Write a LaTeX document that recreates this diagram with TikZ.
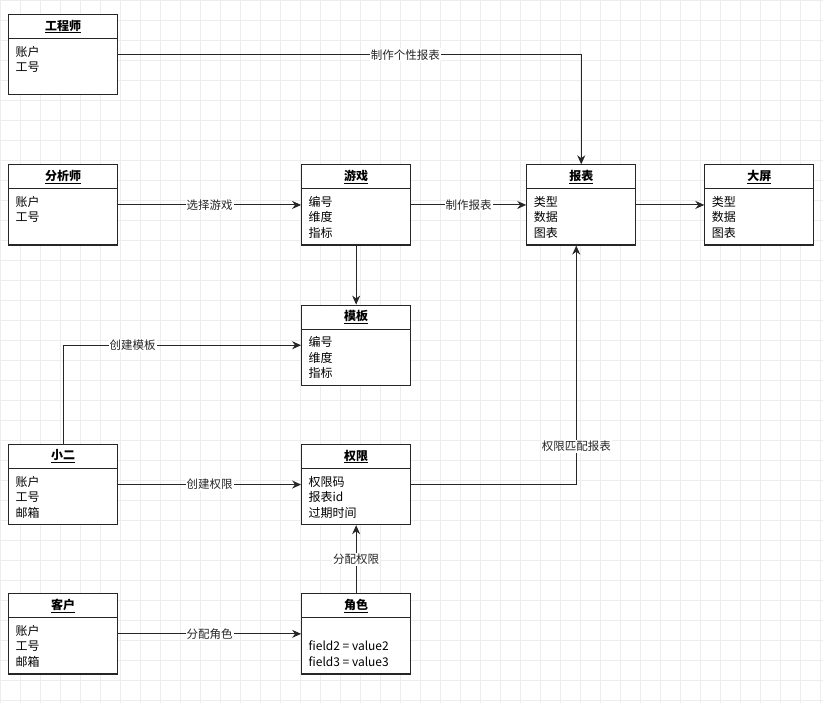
\documentclass[tikz,border=0pt]{standalone}
\usepackage{fontspec}
\setmainfont{Noto Sans CJK SC}
\usepackage{tikz}
\usetikzlibrary{positioning}
\usetikzlibrary{shapes.multipart}
\usetikzlibrary{arrows.meta}

% title and field parts of an entity box
\newcommand{\etitle}[1]{\parbox[c][23pt]{109pt}{\centering\textbf{\underline{#1}}}}
\newcommand{\efields}[1]{\parbox[c][55pt][t]{109pt}{\raggedright\leftskip=7pt\rule{0pt}{17pt}#1}}

\begin{document}
\begin{tikzpicture}
      [x=1pt, y=-1pt, font=\fontsize{12}{15.5}\selectfont,
       entity/.style={rectangle split, rectangle split parts=2, draw=black!85,
                      line width=1.1pt, fill=white, inner sep=0pt},
       rel/.style={-{Stealth[length=9pt,width=8pt]}, line width=1pt, black!85},
       lbl/.style={fill=white, inner sep=1pt, font=\fontsize{11.5}{12}\selectfont}]
      \useasboundingbox (0,0) rectangle (823,703);
      \draw[black!7, step=20pt] (0,0) grid (823,703);
      \node[entity, anchor=north west] (eng) at (8,14)
            {\etitle{工程师}\nodepart{two}\efields{账户\\工号}};
      \node[entity] (ana) [below=69pt of eng]
            {\etitle{分析师}\nodepart{two}\efields{账户\\工号}};
      \node[entity] (game) [right=183pt of ana]
            {\etitle{游戏}\nodepart{two}\efields{编号\\维度\\指标}};
      \node[entity] (report) [right=115pt of game]
            {\etitle{报表}\nodepart{two}\efields{类型\\数据\\图表}};
      \node[entity] (screen) [right=68pt of report]
            {\etitle{大屏}\nodepart{two}\efields{类型\\数据\\图表}};
      \node[entity] (tmpl) [below=59pt of game]
            {\etitle{模板}\nodepart{two}\efields{编号\\维度\\指标}};
      \node[entity] (perm) [below=58pt of tmpl]
            {\etitle{权限}\nodepart{two}\efields{权限码\\报表id\\过期时间}};
      \node[entity] (xiaoer) [left=183pt of perm]
            {\etitle{小二}\nodepart{two}\efields{账户\\工号\\邮箱}};
      \node[entity] (role) [below=68pt of perm]
            {\etitle{角色}\nodepart{two}\efields{\mbox{}\\field2 = value2\\field3 = value3}};
      \node[entity] (cust) [left=183pt of role]
            {\etitle{客户}\nodepart{two}\efields{账户\\工号\\邮箱}};
      \draw [rel] (eng.east) -| node [lbl, pos=0.31] {制作个性报表} (report.north);
      \draw [rel] (ana) -- node [lbl] {选择游戏} (game);
      \draw [rel] (game) -- node [lbl] {制作报表} (report);
      \draw [rel] (report) -- (screen);
      \draw [rel] (game) -- (tmpl);
      \draw [rel] (xiaoer.north) |- node [lbl, pos=0.646] {创建模板} (tmpl.west);
      \draw [rel] (xiaoer) -- node [lbl] {创建权限} (perm);
      \draw [rel] (perm.east) -| node [lbl, pos=0.58] {权限匹配报表} ([xshift=-5pt]report.south);
      \draw [rel] (role) -- node [lbl] {分配权限} (perm);
      \draw [rel] (cust) -- node [lbl] {分配角色} (role);
\end{tikzpicture}
\end{document}
